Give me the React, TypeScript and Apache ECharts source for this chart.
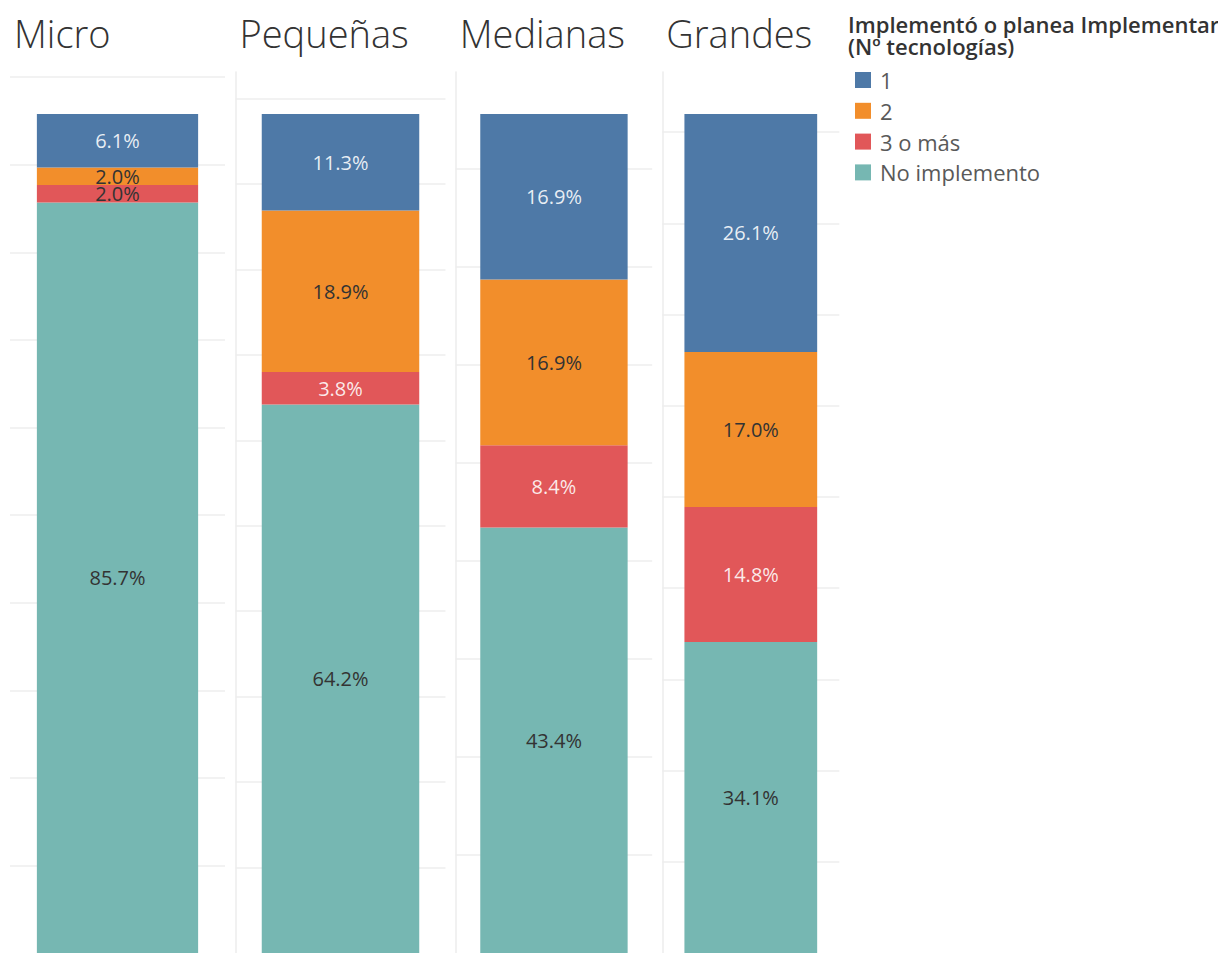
import React, { useEffect, useRef } from "react";
import * as echarts from "echarts";

// ---- Data ----
const categories = ["Micro", "Pequeñas", "Medianas", "Grandes"];
const segmentNames = ["1", "2", "3 o más", "No implemento"];
const valuesOne = [6.1, 11.3, 16.9, 26.1];
const valuesTwo = [2.0, 18.9, 16.9, 17.0];
const valuesThreePlus = [2.0, 3.8, 8.4, 14.8];
const valuesNone = [85.7, 64.2, 43.4, 34.1];
const legendTitle = "Implementó o planea Implementar\n(Nº tecnologías)";

// ---- Style / layout ----
const COLORS: Record<string, string> = {
  "1": "#4e79a7",
  "2": "#f28e2b",
  "3 o más": "#e15759",
  "No implemento": "#76b7b2",
};
const LIGHT = "rgba(255,255,255,0.88)";
const DARK = "#333333";
const FONT = "'Open Sans', 'Noto Sans', sans-serif";
// panel horizontal extents [left, width]
const PANELS: [number, number][] = [
  [10, 215],
  [235.5, 210],
  [455.7, 196.5],
  [662.3, 177],
];
const GRID_TOP = 72;
const GRID_HEIGHT = 885;

export default function App() {
  const ref = useRef<HTMLDivElement>(null);

  useEffect(() => {
    if (!ref.current) return;
    document.body.style.margin = "0";
    const chart = echarts.init(ref.current, undefined, { renderer: "svg" });

    const segValues: Record<string, number[]> = {
      "1": valuesOne,
      "2": valuesTwo,
      "3 o más": valuesThreePlus,
      "No implemento": valuesNone,
    };
    // stacking order bottom -> top
    const stackOrder = ["No implemento", "3 o más", "2", "1"];

    const grids: any[] = [];
    const xAxes: any[] = [];
    const yAxes: any[] = [];
    const titles: any[] = [];
    const series: any[] = [];

    categories.forEach((cat, i) => {
      const [left, width] = PANELS[i];
      const total =
        valuesOne[i] + valuesTwo[i] + valuesThreePlus[i] + valuesNone[i];
      grids.push({ left, width, top: GRID_TOP, height: GRID_HEIGHT, containLabel: false });
      xAxes.push({
        type: "category",
        gridIndex: i,
        data: [cat],
        show: false,
      });
      yAxes.push({
        type: "value",
        gridIndex: i,
        min: 0,
        max: total * 1.05,
        interval: 10,
        axisLabel: { show: false },
        axisTick: { show: false },
        axisLine: {
          show: i > 0,
          lineStyle: { color: "#ececec", width: 1.5 },
        },
        splitLine: {
          show: true,
          showMaxLine: false,
          showMinLine: false,
          lineStyle: { color: "#eeeeee", width: 1.5 },
        },
      });
      titles.push({
        text: cat,
        left: left + 4,
        top: 13.5,
        padding: 0,
        textStyle: {
          fontFamily: FONT,
          fontSize: 38,
          fontWeight: 300,
          color: "#333333",
        },
      });
      stackOrder.forEach((name) => {
        const v = segValues[name][i];
        let labelColor = DARK;
        if (name === "1") labelColor = LIGHT;
        if (name === "3 o más") labelColor = v < 3 ? DARK : LIGHT;
        series.push({
          type: "bar",
          name,
          xAxisIndex: i,
          yAxisIndex: i,
          stack: "s" + i,
          barWidth: "75%",
          itemStyle: { color: COLORS[name] },
          label: {
            show: true,
            position: "inside",
            formatter: (p: any) => Number(p.value).toFixed(1) + "%",
            fontFamily: FONT,
            fontSize: 20,
            color: labelColor,
          },
          emphasis: { disabled: true },
          data: [v],
        });
      });
    });

    titles.push({
      text: legendTitle,
      left: 848,
      top: 13,
      padding: 0,
      textStyle: {
        fontFamily: FONT,
        fontSize: 22,
        fontWeight: 600,
        lineHeight: 22,
        color: "#333333",
      },
    });

    chart.setOption({
      animation: false,
      backgroundColor: "#ffffff",
      title: titles,
      grid: grids,
      xAxis: xAxes,
      yAxis: yAxes,
      legend: {
        data: segmentNames,
        orient: "vertical",
        left: 855,
        top: 69,
        padding: 0,
        itemWidth: 16,
        itemHeight: 16,
        itemGap: 8.8,
        icon: "rect",
        selectedMode: false,
        textStyle: {
          fontFamily: FONT,
          fontSize: 22,
          lineHeight: 22,
          color: "#595959",
          padding: [0, 0, 0, 4],
        },
      },
      tooltip: { show: false },
      series,
    });

    return () => chart.dispose();
  }, []);

  return (
    <div style={{ position: "fixed", left: 0, top: 0, width: 1218, height: 953, overflow: "hidden" }}>
      <div ref={ref} style={{ width: 1218, height: 953 }} />
    </div>
  );
}
